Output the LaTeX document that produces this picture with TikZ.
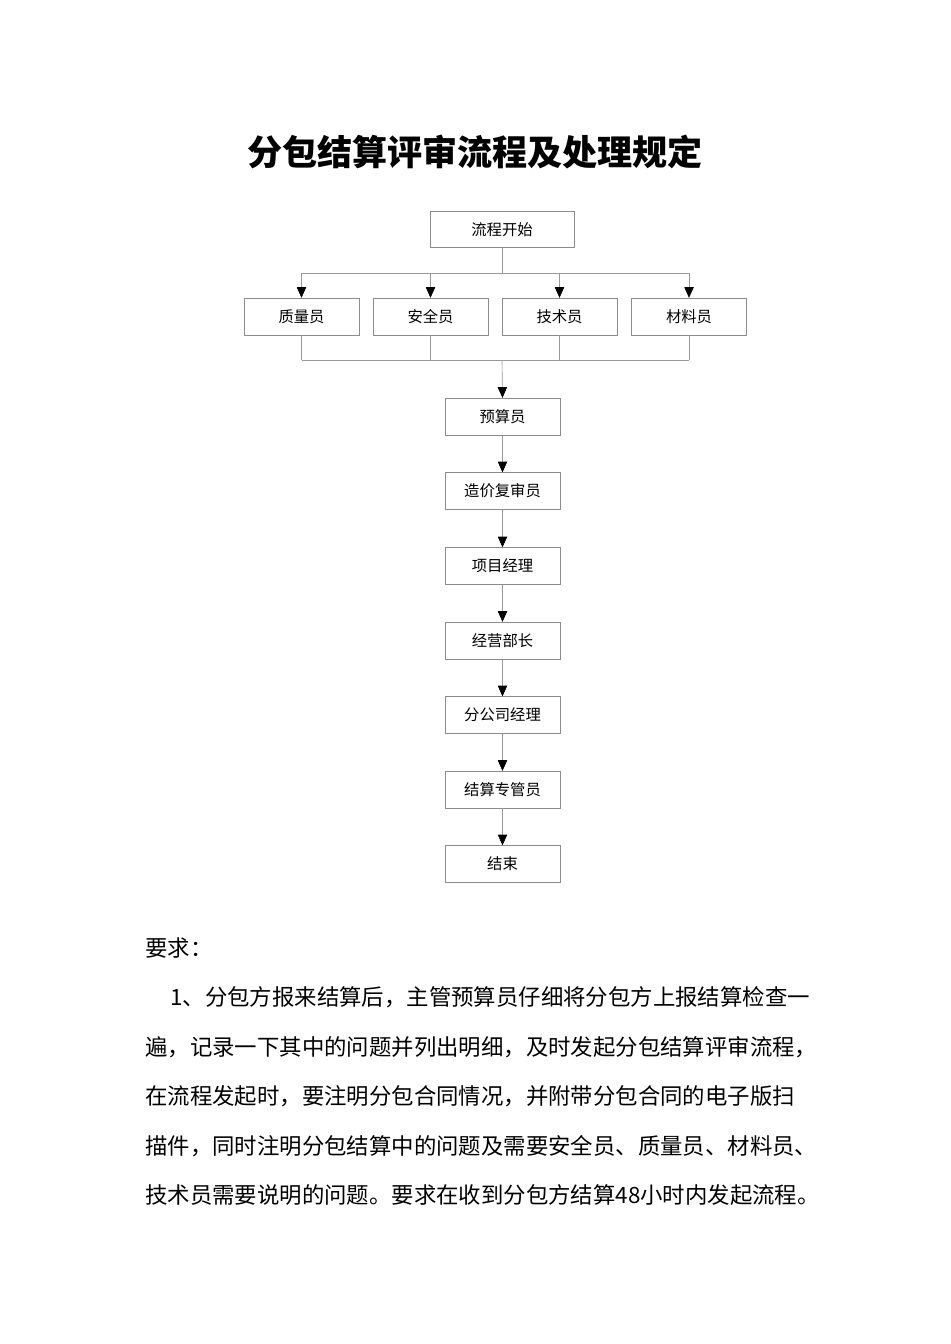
\documentclass[tikz,border=0pt]{standalone}
\usepackage{fontspec}
\setmainfont{Noto Sans CJK SC}
\usetikzlibrary{arrows.meta}
\begin{document}
\begin{tikzpicture}[x=0.75pt,y=-0.75pt,
  box/.style={draw=black!45,line width=0.5pt,minimum width=86.25pt,minimum height=27.5pt,inner sep=0pt,font=\fontsize{11.5}{12}\selectfont},
  ln/.style={draw=black!40,line width=0.5pt},
  arr/.style={ln,-{Triangle[length=8pt,width=7pt,fill=black,color=black]}},
  body/.style={anchor=west,inner sep=0pt,font=\fontsize{16.8}{17}\selectfont}]
\useasboundingbox[fill=white] (0,0) rectangle (950,1344);
\node[font=\fontsize{26.3}{27}\selectfont\bfseries] (title) at (475,152) {分包结算评审流程及处理规定};
\node[box,minimum width=108pt] (start) at (502,229.5) {流程开始};
\node[box] (q) at (301.5,316.5) {质量员};
\node[box] (s) at (430.5,316.5) {安全员};
\node[box] (t) at (559.5,316.5) {技术员};
\node[box] (m) at (689,316.5) {材料员};
\coordinate (top) at (502,273);
\coordinate (bot) at (502,360);
\draw[ln] (start) -- (top);
\draw[ln] (q.north|-top) -- (m.north|-top);
\foreach \n in {q,s,t,m}{\draw[arr] (\n.north|-top) -- (\n.north);}
\foreach \n in {q,s,t,m}{\draw[ln] (\n.south) -- (\n.south|-bot);}
\draw[ln] (q.south|-bot) -- (m.south|-bot);
\node[box] (b1) at (502.5,416.5) {预算员};
\node[box] (b2) at (502.5,491) {造价复审员};
\node[box] (b3) at (502.5,566) {项目经理};
\node[box] (b4) at (502.5,640.5) {经营部长};
\node[box] (b5) at (502.5,715) {分公司经理};
\node[box] (b6) at (502.5,789.5) {结算专管员};
\node[box] (b7) at (502.5,864) {结束};
\draw[arr] (bot) -- (b1.north);
\foreach \a/\b in {b1/b2,b2/b3,b3/b4,b4/b5,b5/b6,b6/b7}{\draw[arr] (\a) -- (\b);}
\node[body] (r0) at (145,948) {要求：};
\node[body] (r1) at (170,997) {1、分包方报来结算后，主管预算员仔细将分包方上报结算检查一};
\node[body] (r2) at (145,1047) {遍，记录一下其中的问题并列出明细，及时发起分包结算评审流程，};
\node[body] (r3) at (145,1096) {在流程发起时，要注明分包合同情况，并附带分包合同的电子版扫};
\node[body] (r4) at (145,1146) {描件，同时注明分包结算中的问题及需要安全员、质量员、材料员、};
\node[body] (r5) at (145,1195) {技术员需要说明的问题。要求在收到分包方结算48小时内发起流程。};
\end{tikzpicture}
\end{document}
